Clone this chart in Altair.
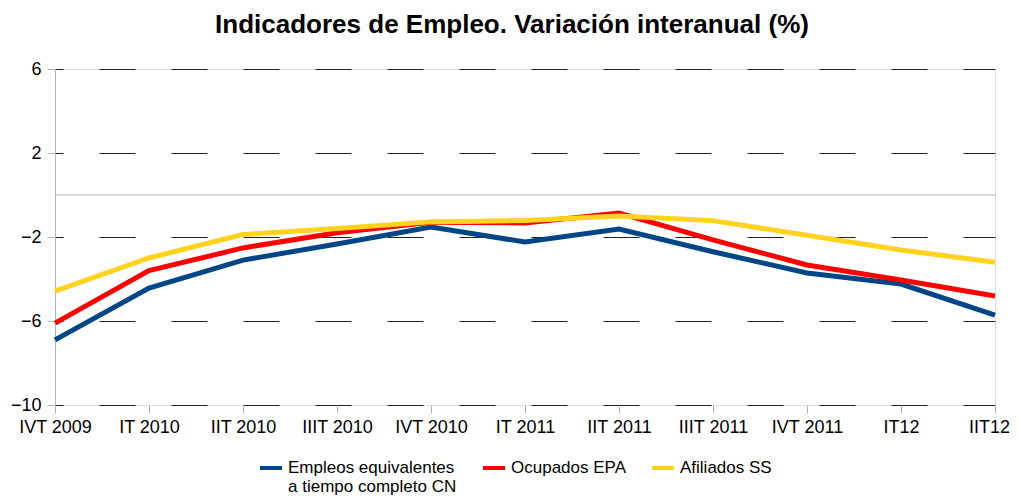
import altair as alt
import pandas as pd

categories = ["IVT 2009", "IT 2010", "IIT 2010", "IIIT 2010", "IVT 2010", "IT 2011",
              "IIT 2011", "IIIT 2011", "IVT 2011", "IT12", "IIT12"]
series_names = ["Empleos equivalentes a tiempo completo CN", "Ocupados EPA", "Afiliados SS"]
empleos = [-6.9, -4.43, -3.1, -2.33, -1.52, -2.24, -1.62, -2.7, -3.71, -4.24, -5.72]
ocupados = [-6.1, -3.6, -2.52, -1.8, -1.3, -1.33, -0.86, -2.14, -3.33, -4.05, -4.81]
afiliados = [-4.58, -3.0, -1.88, -1.6, -1.28, -1.22, -1.0, -1.22, -1.92, -2.62, -3.2]
colors = ["#004586", "#ff0000", "#ffd320"]
y_ticks = [-10, -6, -2, 2, 6]

rows = []
for name, vals in zip(series_names, [empleos, ocupados, afiliados]):
    for i, (c, v) in enumerate(zip(categories, vals)):
        rows.append({"cat": c, "serie": name, "valor": v, "orden": i})
df = pd.DataFrame(rows)
zero_df = pd.DataFrame({"y": [0]})

FONT = "Liberation Sans"

x_enc = alt.X("cat:N", sort=categories, title=None,
              scale=alt.Scale(type="point", padding=0),
              axis=alt.Axis(domain=False, ticks=True, tickColor="#b3b3b3", tickSize=8,
                            labelFont=FONT, labelFontSize=18, labelColor="#000000",
                            labelPadding=5, labelAngle=0, grid=False,
                            labelOffset=alt.condition("datum.value == 'IIT12'",
                                                      alt.value(-6), alt.value(0))))

y_scale = alt.Scale(domain=[-10, 6], nice=False, zero=False)

zero_rule = alt.Chart(zero_df).mark_rule(color="#b3b3b3", strokeWidth=1).encode(
    y=alt.Y("y:Q", scale=y_scale)
)

label_expr = (
    "datum.label == 'Empleos equivalentes a tiempo completo CN' ? "
    "['Empleos equivalentes', ' a tiempo completo CN'] : [datum.label, '']"
)

lines = alt.Chart(df).mark_line(strokeWidth=5, strokeJoin="miter").encode(
    x=x_enc,
    y=alt.Y("valor:Q", scale=y_scale, title=None,
            axis=alt.Axis(values=y_ticks, domain=True, domainColor="#b3b3b3",
                          ticks=True, tickColor="#b3b3b3", tickSize=8,
                          labelFont=FONT, labelFontSize=18, labelColor="#000000",
                          labelPadding=6,
                          grid=True, gridColor="#222222", gridDash=[36, 36],
                          gridDashOffset=28, gridWidth=1)),
    color=alt.Color("serie:N", sort=series_names,
                    scale=alt.Scale(domain=series_names, range=colors),
                    legend=alt.Legend(
                        title=None, orient="none", direction="horizontal", columns=3,
                        legendX=203, legendY=386,
                        symbolType="stroke", symbolStrokeWidth=4, symbolSize=484,
                        labelFont=FONT, labelFontSize=17, labelColor="#000000",
                        labelOffset=4, columnPadding=18, labelBaseline="middle",
                        labelExpr=label_expr,
                        labelLimit=400)),
    order="orden:Q",
)

chart = alt.layer(zero_rule, lines).properties(
    width=940, height=336,
    title=alt.Title("Indicadores de Empleo. Variación interanual (%)",
                    font=FONT, fontSize=26, fontWeight="bold", color="#000000",
                    anchor="middle", offset=22, dx=-13),
    autosize=alt.AutoSizeParams(type="none"),
    padding={"left": 47, "top": 61, "right": 15, "bottom": 92},
).configure_view(stroke=None).configure(background="#ffffff")

chart.save("out.html", embed_options={"renderer": "svg", "actions": False})
